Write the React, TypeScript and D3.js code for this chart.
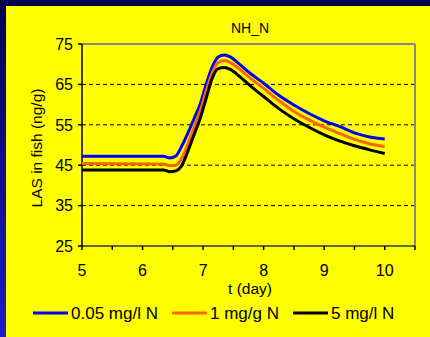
import * as d3 from 'd3';

// time in days
const times = [5, 6.35, 6.45, 6.55, 6.65, 6.75, 6.85, 6.95, 7.05, 7.15, 7.25, 7.35, 7.45, 7.6, 7.8, 8.0, 8.25, 8.5, 8.75, 9.0, 9.25, 9.5, 9.75, 10];

const blue = [47.2, 47.2, 46.8, 47.3, 49.8, 53.0, 56.5, 60.0, 65.0, 69.3, 71.8, 72.3, 71.8, 70.0, 67.5, 65.3, 62.3, 59.9, 57.8, 56.0, 54.6, 53.0, 52.0, 51.5];
const orange = [45.4, 45.3, 44.9, 45.0, 46.8, 50.3, 54.3, 58.3, 63.3, 67.8, 70.4, 70.9, 70.4, 68.8, 66.3, 64.0, 61.0, 58.3, 56.2, 54.4, 52.9, 51.4, 50.3, 49.6];
const black = [43.8, 43.8, 43.4, 43.6, 45.0, 48.5, 52.5, 56.5, 61.5, 66.5, 68.9, 69.2, 68.7, 67.0, 64.4, 62.0, 59.0, 56.5, 54.4, 52.5, 51.0, 49.8, 48.8, 47.9];

const seriesNames = ['0.05 mg/l N', '1 mg/g N', '5 mg/l N'];
const seriesColors = ['#0000ff', '#ff6600', '#000000'];

const yTicks = [25, 35, 45, 55, 65, 75];
const xLabels = [5, 6, 7, 8, 9, 10];

const W = 430;
const H = 337;
const font = 'Arial, "Liberation Sans", sans-serif';

export default function App() {
  const x = d3.scaleLinear().domain([5, 10.5]).range([82, 415]);
  const y = d3.scaleLinear().domain([25, 75]).range([246, 44]);

  const line = d3.line<number>()
    .x((_, i) => x(times[i]))
    .y((d) => y(d))
    .curve(d3.curveMonotoneX);

  const series = [blue, orange, black];
  const xTicks = d3.range(5, 10.51, 0.5);
  const legendX = [33, 172, 293];

  return (
    <svg width={W} height={H} style={{ position: 'absolute', left: 0, top: 0 }} fontFamily={font}>
      <defs>
        <linearGradient id="bg" x1="0" y1="0" x2="0" y2="1">
          <stop offset="0%" stopColor="#00004c" />
          <stop offset="100%" stopColor="#1c1cc8" />
        </linearGradient>
      </defs>
      <rect width={W} height={H} fill="url(#bg)" />
      <rect x={6} y={6} width={W - 6} height={H - 6} fill="#ffff00" />

      {/* gridlines */}
      {yTicks.filter((t) => t > 25 && t < 75).map((t) => (
        <line key={t} x1={x(5)} x2={x(10.5)} y1={y(t)} y2={y(t)} stroke="#000" strokeWidth={1} strokeDasharray="4,3" />
      ))}

      {/* plot frame */}
      <line x1={x(5)} x2={x(10.5)} y1={y(75)} y2={y(75)} stroke="#888" strokeWidth={2} />
      <line x1={x(10.5)} x2={x(10.5)} y1={y(75)} y2={y(25)} stroke="#888" strokeWidth={2} />
      <line x1={x(5)} x2={x(10.5)} y1={y(25)} y2={y(25)} stroke="#333" strokeWidth={1.5} />
      <line x1={x(5)} x2={x(5)} y1={y(75)} y2={y(25)} stroke="#000" strokeWidth={1.5} />

      {/* y ticks */}
      {yTicks.map((t) => (
        <g key={t}>
          <line x1={x(5) - 4} x2={x(5)} y1={y(t)} y2={y(t)} stroke="#000" strokeWidth={1.5} />
          <text x={73} y={y(t)} dy="0.36em" textAnchor="end" fontSize={16} fill="#000">{t}</text>
        </g>
      ))}

      {/* x ticks */}
      {xTicks.map((t) => (
        <line key={t} x1={x(t)} x2={x(t)} y1={y(25)} y2={y(25) + 4} stroke="#000" strokeWidth={1.5} />
      ))}
      {xLabels.map((t) => (
        <text key={t} x={x(t)} y={270} dy="0.36em" textAnchor="middle" fontSize={16} fill="#000">{t}</text>
      ))}

      {/* series */}
      {series.map((s, i) => (
        <path key={i} d={line(s) || ''} fill="none" stroke={seriesColors[i]} strokeWidth={3} strokeLinejoin="round" />
      ))}

      {/* titles */}
      <text x={250} y={28} dy="0.36em" textAnchor="middle" fontSize={14} fill="#000">NH_N</text>
      <text x={250} y={288} dy="0.36em" textAnchor="middle" fontSize={15.5} fill="#000">t (day)</text>
      <text transform="translate(36,148) rotate(-90)" dy="0.36em" textAnchor="middle" fontSize={15.5} fill="#000">LAS in fish (ng/g)</text>

      {/* legend */}
      {seriesNames.map((n, i) => (
        <g key={n}>
          <line x1={legendX[i]} x2={legendX[i] + 35} y1={313} y2={313} stroke={seriesColors[i]} strokeWidth={3} />
          <text x={legendX[i] + 38} y={313} dy="0.36em" fontSize={17} fill="#000">{n}</text>
        </g>
      ))}
    </svg>
  );
}
